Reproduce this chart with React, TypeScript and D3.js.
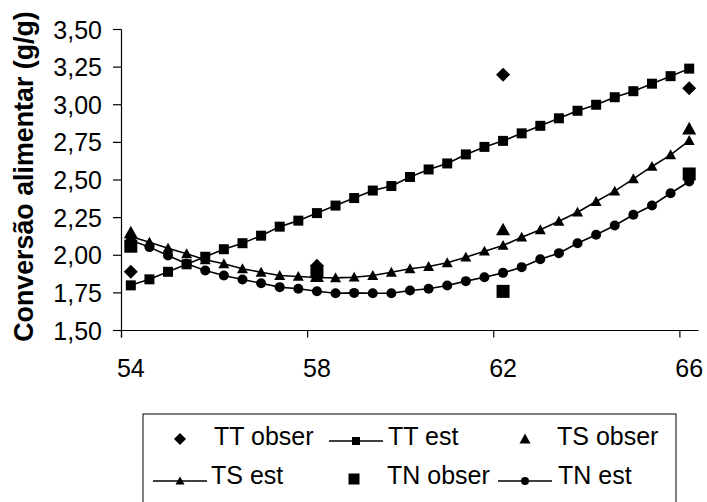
import React from "react";
import * as d3 from "d3";

const estAges: number[] = [
  54.0, 54.4, 54.8, 55.2, 55.6, 56.0, 56.4, 56.8, 57.2, 57.6, 58.0,
  58.4, 58.8, 59.2, 59.6, 60.0, 60.4, 60.8, 61.2, 61.6, 62.0,
  62.4, 62.8, 63.2, 63.6, 64.0, 64.4, 64.8, 65.2, 65.6, 66.0,
];
const ttEst: number[] = [
  1.80, 1.84, 1.89, 1.94, 1.99, 2.04, 2.08, 2.13, 2.19, 2.23, 2.28,
  2.33, 2.38, 2.43, 2.46, 2.52, 2.57, 2.61, 2.67, 2.72, 2.76,
  2.81, 2.86, 2.91, 2.96, 3.00, 3.05, 3.09, 3.14, 3.19, 3.24,
];
const tsEst: number[] = [
  2.125, 2.087, 2.047, 2.01, 1.97, 1.943, 1.91, 1.887, 1.865, 1.859, 1.852,
  1.85, 1.854, 1.865, 1.887, 1.91, 1.925, 1.95, 1.987, 2.027, 2.065,
  2.12, 2.169, 2.226, 2.286, 2.357, 2.426, 2.508, 2.59, 2.667, 2.762,
];
const tnEst: number[] = [
  2.10, 2.054, 1.998, 1.943, 1.899, 1.865, 1.839, 1.814, 1.788, 1.777, 1.761,
  1.748, 1.75, 1.748, 1.748, 1.766, 1.777, 1.799, 1.828, 1.854, 1.883,
  1.921, 1.974, 2.014, 2.08, 2.136, 2.198, 2.269, 2.331, 2.412, 2.49,
];
const obsAges: number[] = [54, 58, 62, 66];
const ttObs: number[] = [1.89, 1.93, 3.2, 3.11];
const tsObs: number[] = [2.15, 1.86, 2.17, 2.84];
const tnObs: number[] = [2.06, 1.89, 1.76, 2.54];

const yTicks: number[] = [1.5, 1.75, 2.0, 2.25, 2.5, 2.75, 3.0, 3.25, 3.5];
const xLabels: number[] = [54, 58, 62, 66];
const xTickMarks: number[] = [53.8, 57.8, 61.8, 65.8];

const FONT = "'Liberation Sans', Arial, Helvetica, sans-serif";

type Shape = "diamond" | "square" | "triangle" | "circle";

function marker(shape: Shape, cx: number, cy: number, s: number, key: string) {
  const h = s / 2;
  if (shape === "square")
    return <rect key={key} x={cx - h} y={cy - h} width={s} height={s} fill="#000" />;
  if (shape === "circle") return <circle key={key} cx={cx} cy={cy} r={h} fill="#000" />;
  if (shape === "diamond")
    return (
      <path key={key} d={`M${cx},${cy - h}L${cx + h},${cy}L${cx},${cy + h}L${cx - h},${cy}Z`} fill="#000" />
    );
  return (
    <path key={key} d={`M${cx},${cy - h}L${cx + h},${cy + h * 0.8}L${cx - h},${cy + h * 0.8}Z`} fill="#000" />
  );
}

export default function App() {
  const W = 707;
  const H = 502;
  const x = d3.scaleLinear().domain([53.8, 66.2]).range([121.5, 698.5]);
  const y = d3.scaleLinear().domain([1.5, 3.5]).range([330.5, 29.5]);
  const line = d3
    .line<[number, number]>()
    .x((d) => x(d[0]))
    .y((d) => y(d[1]));
  const fmt = (v: number) => d3.format(".2f")(v).replace(".", ",");

  const estSeries: { vals: number[]; shape: Shape; size: number }[] = [
    { vals: ttEst, shape: "square", size: 10 },
    { vals: tsEst, shape: "triangle", size: 11 },
    { vals: tnEst, shape: "circle", size: 10 },
  ];
  const obsSeries: { vals: number[]; shape: Shape; size: number }[] = [
    { vals: ttObs, shape: "diamond", size: 14 },
    { vals: tsObs, shape: "triangle", size: 14 },
    { vals: tnObs, shape: "square", size: 13 },
  ];

  const legendItems: { label: string; shape: Shape; line: boolean; lx: number; tx: number; row: number; size: number }[] = [
    { label: "TT obser", shape: "diamond", line: false, lx: 180, tx: 214, row: 0, size: 12 },
    { label: "TT est", shape: "square", line: true, lx: 356, tx: 388, row: 0, size: 8 },
    { label: "TS obser", shape: "triangle", line: false, lx: 525, tx: 557, row: 0, size: 11 },
    { label: "TS est", shape: "triangle", line: true, lx: 180, tx: 211, row: 1, size: 9 },
    { label: "TN obser", shape: "square", line: false, lx: 354, tx: 387, row: 1, size: 11 },
    { label: "TN est", shape: "circle", line: true, lx: 525, tx: 558, row: 1, size: 8 },
  ];
  const rowSymY = [441, 481];
  const rowTextY = [445, 484];

  return (
    <svg width={W} height={H} style={{ position: "absolute", left: 0, top: 0, background: "#fff" }}>
      <rect x={0} y={0} width={W} height={H} fill="#fff" />
      <line x1={x(53.8)} x2={x(53.8)} y1={y(3.5)} y2={y(1.5) + 7} stroke="#000" strokeWidth={1.2} />
      <line x1={x(53.8)} x2={x(66.2)} y1={y(1.5)} y2={y(1.5)} stroke="#000" strokeWidth={1.2} />
      {yTicks.map((t) => (
        <g key={"yt" + t}>
          <line x1={x(53.8) - 8.5} x2={x(53.8)} y1={y(t)} y2={y(t)} stroke="#000" strokeWidth={1.2} />
          <text x={102} y={y(t)} dy="0.36em" textAnchor="end" fontFamily={FONT} fontSize={25} fill="#000">
            {fmt(t)}
          </text>
        </g>
      ))}
      {xTickMarks.map((t) => (
        <line key={"xt" + t} x1={x(t)} x2={x(t)} y1={y(1.5)} y2={y(1.5) + 7} stroke="#000" strokeWidth={1.2} />
      ))}
      {xLabels.map((t) => (
        <text key={"xl" + t} x={x(t)} y={376.5} textAnchor="middle" fontFamily={FONT} fontSize={25} fill="#000">
          {t}
        </text>
      ))}
      <text
        transform={`translate(33,176.5) rotate(-90)`}
        textAnchor="middle"
        fontFamily={FONT}
        fontSize={26.8}
        fontWeight="bold"
        fill="#000"
      >
        Conversão alimentar (g/g)
      </text>
      {estSeries.map((s, si) => (
        <g key={"es" + si}>
          <path
            d={line(estAges.map((a, i) => [a, s.vals[i]] as [number, number])) || ""}
            fill="none"
            stroke="#000"
            strokeWidth={1.6}
          />
          {estAges.map((a, i) => marker(s.shape, x(a), y(s.vals[i]), s.size, `m${si}-${i}`))}
        </g>
      ))}
      {obsSeries.map((s, si) => (
        <g key={"os" + si}>
          {obsAges.map((a, i) => marker(s.shape, x(a), y(s.vals[i]), s.size, `o${si}-${i}`))}
        </g>
      ))}
      <rect x={143} y={414} width={533} height={100} fill="none" stroke="#000" strokeWidth={1} />
      {legendItems.map((it, i) => (
        <g key={"lg" + i}>
          {it.line && (
            <line x1={it.lx - 27} x2={it.lx + 27} y1={rowSymY[it.row]} y2={rowSymY[it.row]} stroke="#000" strokeWidth={1.6} />
          )}
          {marker(it.shape, it.lx, rowSymY[it.row] - (it.line ? 0 : 2), it.size, "lm" + i)}
          <text x={it.tx} y={rowTextY[it.row]} fontFamily={FONT} fontSize={25} fill="#000">
            {it.label}
          </text>
        </g>
      ))}
    </svg>
  );
}
